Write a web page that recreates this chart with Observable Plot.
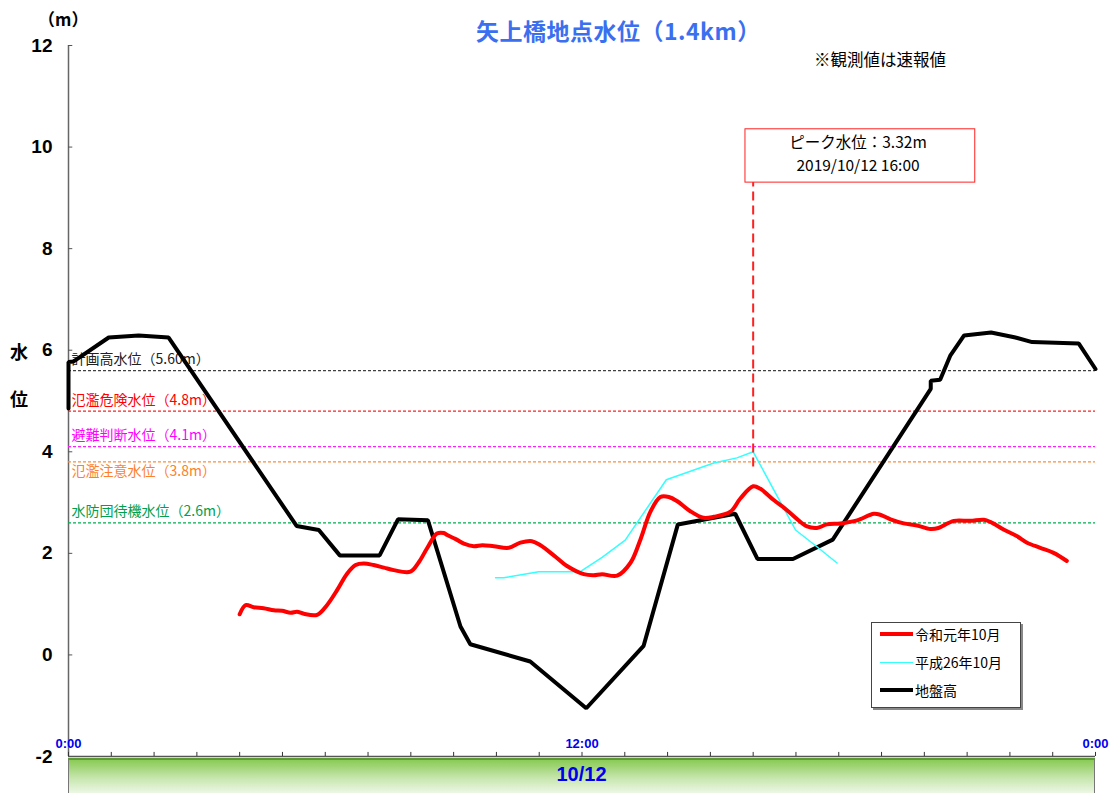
<!DOCTYPE html>
<html>
<head>
<meta charset="utf-8">
<script src="https://cdn.jsdelivr.net/npm/d3@7"></script>
<script src="https://cdn.jsdelivr.net/npm/@observablehq/plot@0.6"></script>
<style>
  body { margin: 0; background: #fff; font-family: "Noto Sans CJK JP", "Noto Sans", sans-serif; }
  #wrap { position: relative; width: 1117px; height: 793px; overflow: hidden; }
  .abs { position: absolute; white-space: nowrap; }
  #title { left: 476px; top: 13px; font-size: 23px; font-weight: bold; color: #3a6ff0; letter-spacing: 0.5px; }
  #note { left: 814px; top: 47px; font-size: 16.5px; color: #000; }
  #unit { left: 38px; top: 6px; font-size: 17px; font-weight: bold; }
  .ylab { left: 10px; font-size: 18px; font-weight: bold; }
  #bar { left: 68px; top: 758px; width: 1025px; height: 40px; border: 1px solid #777; border-top: 2px solid #5d9a35;
         background: linear-gradient(to bottom, #8acb55 0%, #c6e6ad 45%, #ffffff 100%); }
  #barText { left: 0; width: 100%; top: 3px; text-align: center; font-size: 20px; font-weight: bold; color: #0000ee;
             font-family: "Liberation Sans", Arial, sans-serif; }
  #legend { left: 871px; top: 622px; width: 148px; height: 84px; border: 1px solid #444; background: #fff;
            box-shadow: 2px 2px 0 #888; }
  .lg { position: absolute; left: 8px; font-size: 14px; display: flex; align-items: center; }
  .lg span.sw { display: inline-block; width: 33px; margin-right: 2px; }
</style>
</head>
<body>
<div id="wrap">
  <div id="chart"></div>
  <div class="abs" id="title">矢上橋地点水位（1.4km）</div>
  <div class="abs" id="note">※観測値は速報値</div>
  <div class="abs" id="unit">（m）</div>
  <div class="abs ylab" style="top:338px">水</div>
  <div class="abs ylab" style="top:385px">位</div>
  <div class="abs" id="bar"><div class="abs" id="barText">10/12</div></div>
  <div class="abs" id="legend">
    <div class="lg" style="top:1px"><span class="sw" style="border-top:4px solid #ff0000"></span>令和元年10月</div>
    <div class="lg" style="top:29px"><span class="sw" style="border-top:1.5px solid #33ffff"></span>平成26年10月</div>
    <div class="lg" style="top:57px"><span class="sw" style="border-top:4px solid #000"></span>地盤高</div>
  </div>
</div>
<script>
// ---- data (x in hours of 2019/10/12, y in m) ----
const reiwaHours = [4.00,4.14,4.33,4.56,4.80,4.99,5.19,5.34,5.50,5.81,6.04,6.28,6.51,6.71,6.90,7.13,7.37,7.60,7.99,8.19,8.38,8.61,8.77,8.85,9.05,9.24,9.47,9.67,9.94,10.29,10.56,10.83,11.03,11.34,11.65,12.04,12.27,12.47,12.82,13.13,13.36,13.60,13.83,14.03,14.22,14.53,14.84,15.08,15.47,15.70,16.00,16.17,16.48,16.79,17.02,17.26,17.49,17.72,18.04,18.43,18.82,18.97,19.21,19.52,19.83,20.14,20.33,20.69,21.07,21.39,21.54,21.85,22.16,22.40,22.71,23.02,23.33];
const reiwaLevels = [0.80,0.98,0.94,0.92,0.88,0.87,0.83,0.85,0.81,0.79,0.98,1.28,1.60,1.77,1.80,1.77,1.72,1.67,1.64,1.83,2.10,2.39,2.40,2.36,2.28,2.19,2.14,2.16,2.14,2.11,2.21,2.24,2.16,1.96,1.75,1.59,1.57,1.59,1.56,1.81,2.26,2.82,3.11,3.11,3.03,2.83,2.70,2.72,2.82,3.08,3.32,3.27,3.05,2.85,2.68,2.53,2.50,2.57,2.59,2.65,2.78,2.76,2.67,2.59,2.55,2.48,2.50,2.64,2.64,2.66,2.62,2.47,2.34,2.21,2.11,2.01,1.85];

const heiseiHours = [9.98,10.17,10.99,11.96,12.47,13.01,13.97,15.08,15.62,16.00,16.99,17.49,17.96];
const heiseiLevels = [1.52,1.52,1.64,1.64,1.92,2.26,3.45,3.78,3.88,4.00,2.46,2.13,1.81];

const groundHours = [0,0,0.12,0.94,1.64,2.34,5.33,5.85,6.34,7.27,7.70,8.40,9.16,9.39,10.79,12.10,13.44,14.24,15.58,16.10,16.93,17.86,20.15,20.15,20.37,20.61,20.93,21.56,22.13,22.52,23.61,24.0];
const groundLevels = [4.85,5.77,5.78,6.25,6.29,6.25,2.54,2.46,1.96,1.96,2.67,2.65,0.56,0.21,-0.13,-1.05,0.18,2.57,2.78,1.89,1.89,2.27,5.24,5.40,5.42,5.90,6.29,6.35,6.25,6.16,6.13,5.63];

const thresholdLabels = ["計画高水位（5.60m）","氾濫危険水位（4.8m）","避難判断水位（4.1m）","氾濫注意水位（3.8m）","水防団待機水位（2.6m）"];
const thresholdValues = [5.6, 4.8, 4.1, 3.8, 2.6];
const thresholdColors = ["#404040","#ff2020","#ff20ff","#ff8c3a","#00b050"];
const thresholdTextColors = ["#202020","#ff0000","#ff00ff","#ff7f2a","#00a050"];
const thresholdLabelBelow = [false, false, false, true, false];

const yTicks = [-2,0,2,4,6,8,10,12];
const xTickHours = d3.range(0, 25);
const xLabelHours = [0, 12, 24];
const xLabels = ["0:00","12:00","0:00"];

const peakTime = 16;
const peakLevel = 3.32;
const peakText = ["ピーク水位：3.32m", "2019/10/12 16:00"];

// ---- build tables ----
const reiwa = reiwaHours.map((h,i) => ({h, v: reiwaLevels[i]}));
const heisei = heiseiHours.map((h,i) => ({h, v: heiseiLevels[i]}));
const ground = groundHours.map((h,i) => ({h, v: groundLevels[i]}));
const thresholds = thresholdValues.map((v,i) => ({v, label: thresholdLabels[i], c: thresholdColors[i], tc: thresholdTextColors[i], below: thresholdLabelBelow[i]}));

const chart = Plot.plot({
  width: 1117,
  height: 793,
  marginLeft: 68,
  marginRight: 22,
  marginTop: 45,
  marginBottom: 37,
  style: {fontFamily: "'Noto Sans CJK JP', 'Noto Sans', sans-serif", background: "white", overflow: "visible"},
  x: {domain: [0, 24], axis: null},
  y: {domain: [-2, 12], axis: null},
  marks: [
    // y axis
    Plot.ruleX([0], {stroke: "#666", strokeWidth: 1.5}),
    Plot.ruleY(yTicks, {x1: 0, x2: 0.1, stroke: "#555"}),
    Plot.text(yTicks, {x: 0, y: d => d, text: d => String(d), textAnchor: "end", dx: -16,
      fontSize: 19, fontWeight: "bold", fill: "#000", fontFamily: "'Liberation Sans', Arial, sans-serif"}),
    // x axis
    Plot.ruleY([-2], {stroke: "#555", strokeWidth: 1.5}),
    Plot.ruleX(xTickHours, {x: d => d, y1: -2, y2: -1.92, stroke: "#333"}),
    Plot.text(xLabelHours, {x: d => d, y: -2, dy: -13, text: (d,i) => xLabels[i], fill: "#0000ee",
      fontSize: 13, fontWeight: "bold", fontFamily: "'Liberation Sans', Arial, sans-serif"}),
    // thresholds
    Plot.ruleY(thresholds, {y: "v", stroke: "c", strokeWidth: 1.2, strokeDasharray: "3,2"}),
    Plot.text(thresholds.filter(d => !d.below), {x: 0, y: "v", text: "label", fill: "tc", textAnchor: "start", dx: 3, dy: -11, fontSize: 14}),
    Plot.text(thresholds.filter(d => d.below), {x: 0, y: "v", text: "label", fill: "tc", textAnchor: "start", dx: 3, dy: 10, fontSize: 14}),
    // series
    Plot.line(ground, {x: "h", y: "v", stroke: "#000", strokeWidth: 4, strokeLinejoin: "miter"}),
    Plot.line(heisei, {x: "h", y: "v", stroke: "#33ffff", strokeWidth: 1.5}),
    Plot.line(reiwa, {x: "h", y: "v", stroke: "#ff0000", strokeWidth: 4, curve: "catmull-rom"}),
    // peak annotation
    Plot.ruleX([peakTime], {y1: 3.7, y2: 9.3, stroke: "#ff2020", strokeWidth: 2, strokeDasharray: "9,5"}),
    Plot.rect([peakLevel], {x1: 15.82, x2: 21.19, y1: 9.3, y2: 10.35, fill: "white", stroke: "#ff2020", strokeWidth: 1}),
    Plot.text(peakText, {x: 18.45, y: (d,i) => i === 0 ? 10.07 : 9.62, text: d => d, fontSize: 15.5, fill: "#000", letterSpacing: "0.4px"})
  ]
});
document.getElementById("chart").appendChild(chart);
</script>
</body>
</html>
